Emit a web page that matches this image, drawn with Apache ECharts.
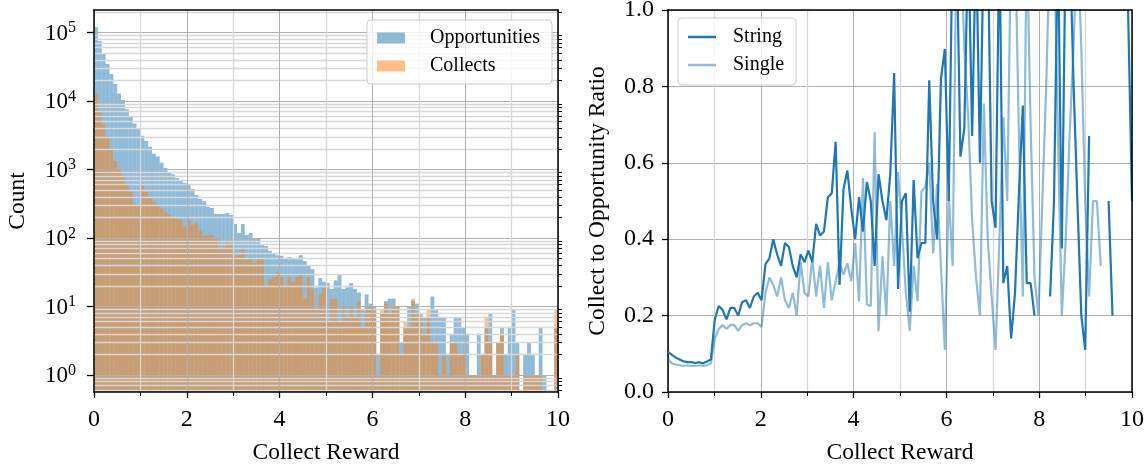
<!DOCTYPE html>
<html><head><meta charset="utf-8">
<script src="https://cdn.jsdelivr.net/npm/echarts@6/dist/echarts.min.js"></script>
<style>html,body{margin:0;padding:0;background:#fff}#c{width:1148px;height:466px}</style>
</head><body><div id="c"></div>
<script>
// ---------------- data ----------------
const rewardRange = [0, 10];
const opportunities = [
  119000, 75000, 49600, 34700, 24800, 17700, 12900, 10300, 7600, 5900,
  4700, 4000, 3100, 2600, 2150, 1700, 1550, 1250, 1050, 900,
  850, 750, 680, 640, 590, 520, 425, 370, 345, 285,
  275, 225, 225, 225, 232, 217, 160, 118, 160, 111,
  118, 97, 97, 80, 76, 65, 60, 56, 55, 51,
  53, 51, 49, 56, 46, 40, 35, 19, 26, 23,
  22, 18, 24, 29, 18, 19, 22, 18, 16, 9,
  15, 11, 10, 2, 8, 12, 13, 13, 10, 3,
  5, 10, 12, 11, 8, 7, 7, 14, 9, 7,
  7, 2, 4, 7, 7, 5, 4, 1, 1, 4,
  2, 5, 8, 1, 3, 5, 2, 5, 9, 3,
  0, 2, 3, 2, 1, 5, 1, 0, 0, 5
];
const collects = [
  12500, 6980, 4470, 3020, 2000, 1330, 1000, 785, 595, 475,
  320, 300, 595, 475, 400, 340, 300, 270, 240, 220,
  200, 190, 183, 146, 183, 155, 167, 128, 107, 111,
  111, 97, 71, 74, 85, 79, 56, 56, 71, 48,
  51, 43, 51, 51, 19, 25, 27, 32, 27, 19,
  27, 23, 27, 29, 13, 27, 18, 9, 15, 19,
  6, 13, 13, 6, 10, 7, 10, 7, 12, 5,
  10, 10, 9, 1, 9, 11, 8, 10, 10, 2,
  6, 5, 13, 8, 7, 4, 9, 3, 3, 1,
  2, 1, 3, 3, 2, 2, 1, 1, 1, 1,
  2, 7, 3, 1, 3, 4, 1, 1, 1, 2,
  0, 1, 1, 1, 1, 1, 0, 0, 0, 9
];
const stringRatio = [
  0.105, 0.097, 0.09, 0.085, 0.08, 0.078, 0.078, 0.076, 0.078, 0.075,
  0.08, 0.085, 0.19, 0.225, 0.215, 0.19, 0.22, 0.22, 0.20, 0.235,
  0.24, 0.22, 0.25, 0.26, 0.24, 0.335, 0.35, 0.40, 0.36, 0.33,
  0.39, 0.38, 0.33, 0.30, 0.36, 0.34, 0.37, 0.34, 0.44, 0.41,
  0.42, 0.51, 0.52, 0.655, 0.28, 0.53, 0.58, 0.48, 0.40, 0.51,
  0.42, 0.55, 0.50, 0.33, 0.57, 0.50, 0.45, 0.57, 0.835, 0.27,
  0.50, 0.52, 0.21, 0.555, 0.35, 0.39, 0.39, 0.816, 0.50, 0.40,
  0.82, 0.898, 0.50, 1.2, 1.2, 0.616, 0.69, 1.2, 0.67, 1.2,
  0.60, 1.2, 1.2, 0.50, 0.43, 1.2, 0.285, 0.33, 0.14, 0.26,
  0.52, 0.75, 0.285, 0.285, 0.20, null, null, null, 0.25, 0.50,
  1.2, 0.376, 1.2, 1.2, 0.81, 0.5, 0.2, 0.11, 0.67, null,
  null, null, null, 0.5, 0.2, null, null, null, 1.0, 0.5
];
const singleRatio = [
  0.085, 0.075, 0.072, 0.07, 0.068, 0.07, 0.068, 0.068, 0.07, 0.068,
  0.07, 0.075, 0.14, 0.165, 0.175, 0.165, 0.175, 0.175, 0.16, 0.175,
  0.18, 0.175, 0.18, 0.18, 0.17, 0.26, 0.30, 0.28, 0.25, 0.30,
  0.24, 0.22, 0.26, 0.20, 0.34, 0.26, 0.25, 0.35, 0.25, 0.33,
  0.22, 0.34, 0.24, 0.29, 0.337, 0.307, 0.337, 0.29, 0.39, 0.237,
  0.56, 0.23, 0.225, 0.68, 0.16, 0.355, 0.20, 0.50, 0.33, 0.576,
  0.43, 0.26, 0.16, 0.33, 0.237, 0.525, 0.537, 0.60, 0.363, 0.545,
  0.33, 0.11, 0.52, 0.33, 1.2, 1.2, 0.9, 0.72, 0.45, 0.3,
  0.2, 0.755, 0.4, 0.25, 0.11, 0.4, 0.72, 0.5, 1.2, 1.2,
  0.67, 0.25, 1.2, 0.7, 0.3, 0.2, 0.5, 0.8, 1.2, 1.2,
  0.67, 0.2, 0.4, 0.67, 0.9, 1.2, 0.9, 0.5, 0.25, 0.5,
  0.5, 0.33, null, null, null, null, null, null, null, null
];
const countDecades = [0, 1, 2, 3, 4, 5];
const countLimits = [0.565, 2.13e5];
const ratioLimits = [0, 1];

// ---------------- build ----------------
const FONT = 'Liberation Serif';
const BLUE = '#1f77b4';
const BLUE_A = 'rgba(31,119,180,0.5)';
const ORANGE_A = 'rgba(255,127,14,0.5)';
const GRID_MAJOR = '#b0b0b0';
const GRID_MINOR = '#d8d8d8';
const LOG_MIN = Math.log10(countLimits[0]);
const LOG_MAX = Math.log10(countLimits[1]);

const nBins = opportunities.length;
const binW = (rewardRange[1] - rewardRange[0]) / nBins;
function histData(counts) {
  return counts.map((c, i) => [rewardRange[0] + i * binW, rewardRange[0] + (i + 1) * binW, c > 0 ? Math.log10(c) : NaN]);
}
const minorLog = [];
for (let k = -1; k <= 5; k++) for (let m = 2; m <= 9; m++) {
  const v = Math.log10(m) + k;
  if (v >= LOG_MIN && v <= LOG_MAX) minorLog.push(v);
}
function rectRender(color) {
  return function (params, api) {
    const x0 = api.value(0), x1 = api.value(1), v = api.value(2);
    if (v == null || isNaN(v)) return;
    const p0 = api.coord([x0, v]);
    const p1 = api.coord([x1, LOG_MIN]);
    return { type: 'rect', shape: { x: p0[0], y: p0[1], width: p1[0] - p0[0], height: p1[1] - p0[1] }, style: { fill: color } };
  };
}
const nPts = stringRatio.length;
const ratioX = i => rewardRange[0] + i * (rewardRange[1] - rewardRange[0]) / (nPts - 1);

const tickFont = { fontFamily: FONT, fontSize: 24, color: '#000' };
const nameFont = { fontFamily: FONT, fontSize: 23.5, color: '#000' };
const spine = { show: true, onZero: false, lineStyle: { color: '#000', width: 1.5 } };

function xAxisCfg(gridIndex, z) {
  return {
    type: 'value', gridIndex, min: rewardRange[0], max: rewardRange[1], interval: 2, z,
    name: 'Collect Reward', nameLocation: 'middle', nameGap: 49, nameTextStyle: nameFont,
    axisLine: spine,
    axisTick: { show: true, length: 6, lineStyle: { color: '#000', width: 1.3 } },
    minorTick: { show: true, splitNumber: 2, length: 4, lineStyle: { color: '#000', width: 1 } },
    axisLabel: Object.assign({ margin: 16, formatter: v => String(v) }, tickFont),
    splitLine: { show: true, lineStyle: { color: GRID_MAJOR, width: 1 } },
    minorSplitLine: { show: true, lineStyle: { color: GRID_MINOR, width: 1.3 } }
  };
}
function spineAxis(gridIndex, pos, range) {
  return {
    type: 'value', gridIndex, position: pos, min: range[0], max: range[1], z: 8,
    axisLine: spine, axisTick: { show: false }, axisLabel: { show: false }, splitLine: { show: false }
  };
}

const option = {
  animation: false,
  backgroundColor: '#fff',
  grid: [
    { left: 94, right: 590, top: 10, bottom: 74, outerBoundsMode: 'none', containLabel: false },
    { left: 668, right: 16, top: 10, bottom: 74, outerBoundsMode: 'none', containLabel: false }
  ],
  xAxis: [
    xAxisCfg(0, 5), xAxisCfg(1, 0),
    spineAxis(0, 'top', rewardRange), spineAxis(1, 'top', rewardRange)
  ],
  yAxis: [
    {
      type: 'value', gridIndex: 0, min: LOG_MIN, max: LOG_MAX, z: 5,
      name: 'Count', nameLocation: 'middle', nameGap: 64, nameTextStyle: nameFont,
      axisLine: spine,
      axisTick: { show: true, length: 7, customValues: countDecades, lineStyle: { color: '#000', width: 1.3 } },
      axisLabel: {
        show: true, margin: 18, customValues: countDecades,
        formatter: v => '{b|10}{s|' + Math.round(v) + '}',
        rich: {
          b: { fontFamily: FONT, fontSize: 23, color: '#000', verticalAlign: 'bottom' },
          s: { fontFamily: FONT, fontSize: 16, color: '#000', verticalAlign: 'bottom', padding: [0, 0, 9, 0] }
        }
      },
      splitLine: { show: true, lineStyle: { color: GRID_MAJOR, width: 1 } }
    },
    {
      type: 'value', gridIndex: 0, min: LOG_MIN, max: LOG_MAX, z: 5,
      axisLine: { show: false, onZero: false },
      axisTick: { show: true, length: 4, customValues: minorLog, lineStyle: { color: '#000', width: 1 } },
      axisLabel: { show: false },
      splitLine: { show: true, lineStyle: { color: GRID_MINOR, width: 1.3 } }
    },
    {
      type: 'value', gridIndex: 1, min: ratioLimits[0], max: ratioLimits[1], interval: 0.2,
      name: 'Collect to Opportunity Ratio', nameLocation: 'middle', nameGap: 58, nameTextStyle: nameFont,
      axisLine: spine,
      axisTick: { show: true, length: 6, lineStyle: { color: '#000', width: 1.3 } },
      axisLabel: Object.assign({ margin: 14, formatter: v => v.toFixed(1) }, tickFont),
      splitLine: { show: true, lineStyle: { color: GRID_MAJOR, width: 1 } }
    },
    spineAxis(0, 'right', [LOG_MIN, LOG_MAX]),
    spineAxis(1, 'right', ratioLimits)
  ],
  legend: [
    {
      z: 20, left: 367, top: 20, orient: 'vertical', itemGap: 8, itemWidth: 28, itemHeight: 11,
      padding: [8, 12, 8, 10], backgroundColor: 'rgba(255,255,255,0.8)', borderColor: '#cccccc', borderWidth: 1, borderRadius: 4,
      textStyle: { fontFamily: FONT, fontSize: 20, color: '#000', padding: [0, 0, 0, 20] },
      data: [
        { name: 'Opportunities', icon: 'rect', itemStyle: { color: BLUE_A } },
        { name: 'Collects', icon: 'rect', itemStyle: { color: ORANGE_A } }
      ],
      selectedMode: false
    },
    {
      z: 20, left: 678, top: 18, orient: 'vertical', itemGap: 8, itemWidth: 28, itemHeight: 2.5,
      padding: [9, 12, 10, 10], backgroundColor: 'rgba(255,255,255,0.8)', borderColor: '#cccccc', borderWidth: 1, borderRadius: 4,
      textStyle: { fontFamily: FONT, fontSize: 20, color: '#000', padding: [0, 0, 0, 12] },
      data: [
        { name: 'String', icon: 'rect', itemStyle: { color: BLUE } },
        { name: 'Single', icon: 'rect', itemStyle: { color: BLUE_A } }
      ],
      selectedMode: false
    }
  ],
  series: [
    {
      name: 'Opportunities', type: 'custom', xAxisIndex: 0, yAxisIndex: 0, z: 2,
      encode: { x: [0, 1], y: 2 }, itemStyle: { color: BLUE_A },
      renderItem: rectRender(BLUE_A), data: histData(opportunities)
    },
    {
      name: 'Collects', type: 'custom', xAxisIndex: 0, yAxisIndex: 0, z: 3,
      encode: { x: [0, 1], y: 2 }, itemStyle: { color: ORANGE_A },
      renderItem: rectRender(ORANGE_A), data: histData(collects)
    },
    {
      name: 'String', type: 'line', xAxisIndex: 1, yAxisIndex: 2, symbol: 'none', clip: true, connectNulls: false,
      lineStyle: { color: BLUE, width: 2.2 }, itemStyle: { color: BLUE }, z: 4,
      data: stringRatio.map((v, i) => [ratioX(i), v])
    },
    {
      name: 'Single', type: 'line', xAxisIndex: 1, yAxisIndex: 2, symbol: 'none', clip: true, connectNulls: false,
      lineStyle: { color: BLUE_A, width: 2.2 }, itemStyle: { color: BLUE_A }, z: 3,
      data: singleRatio.map((v, i) => [ratioX(i), v])
    }
  ]
};
const chart = echarts.init(document.getElementById('c'), null, { renderer: 'canvas' });
chart.setOption(option);
</script>
</body></html>
